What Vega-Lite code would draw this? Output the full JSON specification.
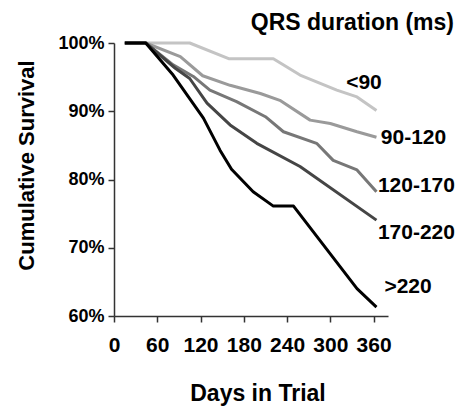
{
  "$schema": "https://vega.github.io/schema/vega-lite/v6.json",
  "width": 274,
  "height": 273,
  "autosize": {"type": "none"},
  "padding": {"left": 114, "top": 43, "right": 71, "bottom": 92},
  "background": "white",
  "title": {
    "text": "QRS duration (ms)",
    "anchor": "end",
    "frame": "group",
    "font": "Liberation Sans",
    "fontSize": 23,
    "fontWeight": "bold",
    "color": "#000000",
    "dx": 66,
    "dy": 31,
    "baseline": "alphabetic",
    "offset": 12
  },
  "config": {
    "view": {"stroke": null},
    "axis": {
      "grid": false,
      "domainColor": "#333333",
      "domainWidth": 1.5,
      "tickColor": "#333333",
      "tickWidth": 1.5,
      "tickSize": 6,
      "labelColor": "#000000",
      "titleColor": "#000000",
      "labelFont": "Liberation Sans",
      "titleFont": "Liberation Sans",
      "labelFontWeight": "bold",
      "titleFontWeight": "bold"
    }
  },
  "datasets": {
    "curves": [
      {"group": "<90", "day": 15, "pct": 100},
      {"group": "<90", "day": 44, "pct": 100},
      {"group": "<90", "day": 105, "pct": 100},
      {"group": "<90", "day": 159, "pct": 97.7},
      {"group": "<90", "day": 221, "pct": 97.7},
      {"group": "<90", "day": 258, "pct": 95.3},
      {"group": "<90", "day": 309, "pct": 93.1},
      {"group": "<90", "day": 337, "pct": 92.1},
      {"group": "<90", "day": 364, "pct": 90.1},
      {"group": "90-120", "day": 15, "pct": 100},
      {"group": "90-120", "day": 44, "pct": 100},
      {"group": "90-120", "day": 92, "pct": 98.0},
      {"group": "90-120", "day": 123, "pct": 95.2},
      {"group": "90-120", "day": 161, "pct": 93.8},
      {"group": "90-120", "day": 203, "pct": 92.6},
      {"group": "90-120", "day": 230, "pct": 91.6},
      {"group": "90-120", "day": 272, "pct": 88.7},
      {"group": "90-120", "day": 300, "pct": 88.2},
      {"group": "90-120", "day": 337, "pct": 87.0},
      {"group": "90-120", "day": 364, "pct": 86.2},
      {"group": "120-170", "day": 15, "pct": 100},
      {"group": "120-170", "day": 44, "pct": 100},
      {"group": "120-170", "day": 82, "pct": 96.8},
      {"group": "120-170", "day": 110, "pct": 95.1},
      {"group": "120-170", "day": 133, "pct": 93.1},
      {"group": "120-170", "day": 170, "pct": 91.4},
      {"group": "120-170", "day": 210, "pct": 89.2},
      {"group": "120-170", "day": 235, "pct": 87.0},
      {"group": "120-170", "day": 281, "pct": 85.3},
      {"group": "120-170", "day": 304, "pct": 82.8},
      {"group": "120-170", "day": 337, "pct": 81.4},
      {"group": "120-170", "day": 364, "pct": 78.2},
      {"group": "170-220", "day": 15, "pct": 100},
      {"group": "170-220", "day": 44, "pct": 100},
      {"group": "170-220", "day": 85, "pct": 96.3},
      {"group": "170-220", "day": 105, "pct": 94.8},
      {"group": "170-220", "day": 129, "pct": 91.2},
      {"group": "170-220", "day": 161, "pct": 88.0},
      {"group": "170-220", "day": 198, "pct": 85.3},
      {"group": "170-220", "day": 258, "pct": 81.9},
      {"group": "170-220", "day": 364, "pct": 74.05},
      {"group": ">220", "day": 15, "pct": 100},
      {"group": ">220", "day": 44, "pct": 100},
      {"group": ">220", "day": 82, "pct": 95.3},
      {"group": ">220", "day": 124, "pct": 89.0},
      {"group": ">220", "day": 147, "pct": 84.3},
      {"group": ">220", "day": 163, "pct": 81.5},
      {"group": ">220", "day": 193, "pct": 78.2},
      {"group": ">220", "day": 221, "pct": 76.1},
      {"group": ">220", "day": 249, "pct": 76.1},
      {"group": ">220", "day": 337, "pct": 64.0},
      {"group": ">220", "day": 364, "pct": 61.3}
    ],
    "labels": [
      {"group": "<90", "day": 322, "pct": 94.2},
      {"group": "90-120", "day": 370, "pct": 86.1},
      {"group": "120-170", "day": 366, "pct": 79.0},
      {"group": "170-220", "day": 366, "pct": 72.1},
      {"group": ">220", "day": 375, "pct": 64.3}
    ]
  },
  "layer": [
    {
      "data": {"name": "curves"},
      "mark": {"type": "line", "strokeWidth": 3, "strokeJoin": "round"},
      "encoding": {
        "x": {
          "field": "day",
          "type": "quantitative",
          "scale": {"domain": [0, 380], "nice": false, "zero": false},
          "axis": {
            "title": "Days in Trial",
            "values": [0, 30, 60, 90, 120, 150, 180, 210, 240, 270, 300, 330, 360],
            "labelExpr": "datum.value % 60 === 0 ? datum.label : ''",
            "labelOverlap": false,
            "labelFlush": false,
            "labelFontSize": 21,
            "labelPadding": 12,
            "titleFontSize": 23,
            "titleX": 143.5,
            "titleY": 84,
            "titleAlign": "center",
            "titleBaseline": "alphabetic"
          }
        },
        "y": {
          "field": "pct",
          "type": "quantitative",
          "scale": {"domain": [60, 100], "nice": false, "zero": false},
          "axis": {
            "title": "Cumulative Survival",
            "values": [60, 70, 80, 90, 100],
            "labelExpr": "datum.value + '%'",
            "labelFontSize": 18,
            "labelPadding": 4,
            "titleFontSize": 22,
            "titleAngle": -90,
            "titleX": -81,
            "titleY": 122,
            "titleAlign": "center",
            "titleBaseline": "alphabetic"
          }
        },
        "color": {
          "field": "group",
          "type": "nominal",
          "scale": {
            "domain": ["<90", "90-120", "120-170", "170-220", ">220"],
            "range": ["#c4c4c4", "#9a9a9a", "#777777", "#454545", "#000000"]
          },
          "legend": null
        },
        "detail": {"field": "group"}
      }
    },
    {
      "data": {"name": "labels"},
      "mark": {
        "type": "text",
        "align": "left",
        "baseline": "middle",
        "font": "Liberation Sans",
        "fontWeight": "bold",
        "fontSize": 21,
        "color": "#000000"
      },
      "encoding": {
        "x": {"field": "day", "type": "quantitative"},
        "y": {"field": "pct", "type": "quantitative"},
        "text": {"field": "group"}
      }
    }
  ]
}
